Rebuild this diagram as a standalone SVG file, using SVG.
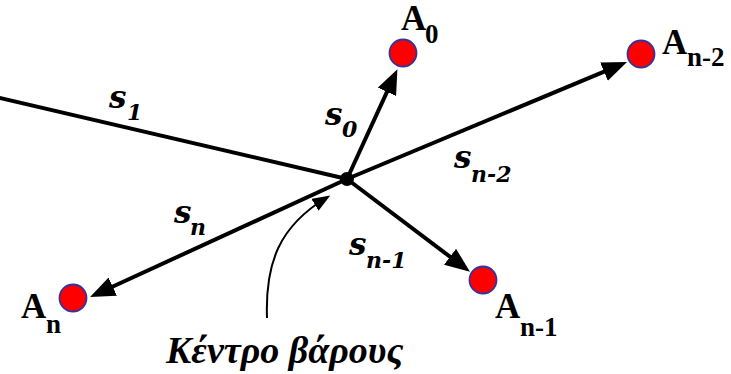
<svg xmlns="http://www.w3.org/2000/svg" width="731" height="374" viewBox="0 0 731 374">
<style>
.ln{stroke:#000;stroke-width:4;fill:none}
.thin{stroke:#000;stroke-width:2;fill:none}
.pt{fill:#ff0000;stroke:#333399;stroke-width:1.8}
.A{font-family:"Liberation Serif","Times New Roman",serif;font-weight:bold;font-size:35px;fill:#000}
.Asub{font-size:27px}
.s{font-family:"DejaVu Serif",serif;font-weight:bold;font-style:italic;font-size:31px;fill:#000}
.ssub{font-size:22px}
.title{font-family:"Liberation Serif","Times New Roman",serif;font-weight:bold;font-style:italic;font-size:38px;fill:#000}
</style>
<defs>
<marker id="ah" markerUnits="userSpaceOnUse" markerWidth="26" markerHeight="20" viewBox="0 0 26 20" refX="19" refY="10" orient="auto">
<path d="M0,0 L25,10 L0,20 Z" fill="#000"/>
</marker>
<marker id="ahs" markerUnits="userSpaceOnUse" markerWidth="18" markerHeight="14" viewBox="0 0 18 14" refX="13" refY="7" orient="auto">
<path d="M0,0 L18,7 L0,14 Z" fill="#000"/>
</marker>
</defs>
<g id="connectors">
<line class="ln" x1="-4" y1="97" x2="347" y2="179"/>
<line class="ln" x1="347" y1="179" x2="394.9" y2="74.6" marker-end="url(#ah)"/>
<line class="ln" x1="347" y1="179" x2="621.5" y2="64.3" marker-end="url(#ah)"/>
<line class="ln" x1="347" y1="179" x2="95.5" y2="294.5" marker-end="url(#ah)"/>
<line class="ln" x1="347" y1="179" x2="465.2" y2="268.2" marker-end="url(#ah)"/>
<path class="thin" d="M267,318 C265,262 280,226 326,198" marker-end="url(#ahs)"/>
</g>
<g id="center"><circle cx="347" cy="179" r="7" fill="#000"/></g>
<g id="A0"><circle class="pt" cx="403" cy="53" r="13.5"/><text class="A" x="401" y="30">A<tspan class="Asub" x="425" y="43">0</tspan></text></g>
<g id="An-2"><circle class="pt" cx="641" cy="54" r="13.5"/><text class="A" x="662" y="54">A<tspan class="Asub" x="687" y="66">n-2</tspan></text></g>
<g id="An"><circle class="pt" cx="73" cy="298" r="13.5"/><text class="A" x="21" y="318">A<tspan class="Asub" x="46" y="333">n</tspan></text></g>
<g id="An-1"><circle class="pt" cx="483" cy="280" r="13.5"/><text class="A" x="495" y="318">A<tspan class="Asub" x="520" y="336">n-1</tspan></text></g>
<g id="labels">
<text class="s" x="109" y="108">s<tspan class="ssub" x="127" y="120">1</tspan></text>
<text class="s" x="325" y="125">s<tspan class="ssub" x="342" y="137">0</tspan></text>
<text class="s" x="454" y="168">s<tspan class="ssub" x="471" y="182">n-2</tspan></text>
<text class="s" x="174" y="223">s<tspan class="ssub" x="190" y="235">n</tspan></text>
<text class="s" x="349" y="255">s<tspan class="ssub" x="366" y="268">n-1</tspan></text>
<text class="title" x="166" y="363">Κέντρο βάρους</text>
</g>
</svg>
